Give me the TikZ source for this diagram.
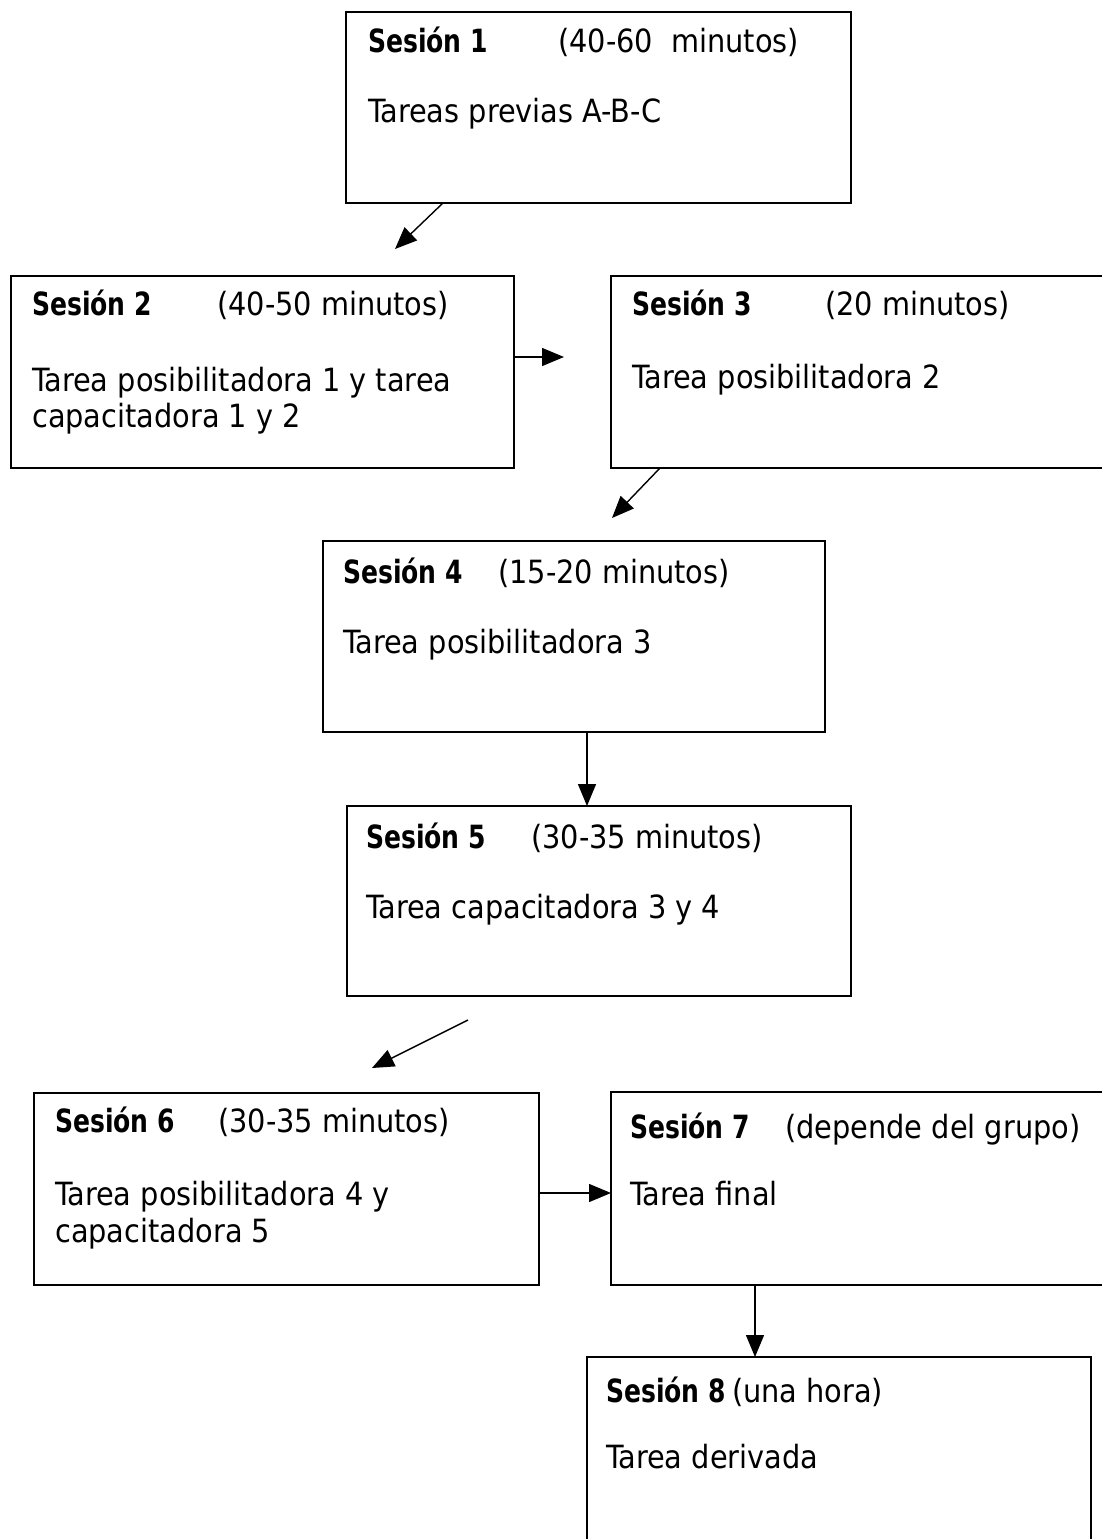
\documentclass[tikz,border=0pt]{standalone}
\usepackage{fontspec}
\setmainfont{DejaVu Sans Condensed}[BoldFeatures={FakeStretch=0.87}]
\usetikzlibrary{arrows.meta,calc}
\begin{document}
\begin{tikzpicture}[x=1pt,y=-1pt,
  box/.style={draw, line width=1.7pt, rectangle, inner sep=0pt, outer sep=0pt, anchor=north west},
  hd/.style={anchor=base west, inner sep=0pt, font=\fontsize{32}{38}\selectfont\bfseries},
  tx/.style={anchor=base west, inner sep=0pt, font=\fontsize{32}{38}\selectfont},
  arr/.style={line width=1.4pt, -{Triangle[length=22pt,width=18pt]}}]
\useasboundingbox (0,0) rectangle (1101,1539);
\fill[white] (0,0) rectangle (1101,1539);
% boxes
\node[box, minimum width=505pt, minimum height=191pt] (b1) at (346,12) {};
\node[box, minimum width=503pt, minimum height=192pt] (b2) at (11,276) {};
\node[box, minimum width=504pt, minimum height=192pt] (b3) at (611,276) {};
\node[box, minimum width=502pt, minimum height=191pt] (b4) at (323,541) {};
\node[box, minimum width=504pt, minimum height=190pt] (b5) at (347,806) {};
\node[box, minimum width=505pt, minimum height=192pt] (b6) at (34,1093) {};
\node[box, minimum width=504pt, minimum height=193pt] (b7) at (611,1092) {};
\node[box, minimum width=504pt, minimum height=203pt] (b8) at (587,1357) {};
% texts
\node[hd] (h1) at (368,52) {Sesión 1};
\node[tx] (p1) at (558,52) {(40-60\ \ minutos)};
\node[tx] (c1) at (368,122) {Tareas previas A-B-C};
\node[hd] (h2) at (32,315) {Sesión 2};
\node[tx] (p2) at (217,315) {(40-50 minutos)};
\node[tx] (c2a) at (32,391) {Tarea posibilitadora 1 y tarea};
\node[tx] (c2b) at (32,427) {capacitadora 1 y 2};
\node[hd] (h3) at (632,315) {Sesión 3};
\node[tx] (p3) at (825,315) {(20 minutos)};
\node[tx] (c3) at (632,388) {Tarea posibilitadora 2};
\node[hd] (h4) at (343,583) {Sesión 4};
\node[tx] (p4) at (498,583) {(15-20 minutos)};
\node[tx] (c4) at (343,653) {Tarea posibilitadora 3};
\node[hd] (h5) at (366,848) {Sesión 5};
\node[tx] (p5) at (531,848) {(30-35 minutos)};
\node[tx] (c5) at (366,918) {Tarea capacitadora 3 y 4};
\node[hd] (h6) at (55,1132) {Sesión 6};
\node[tx] (p6) at (218,1132) {(30-35 minutos)};
\node[tx] (c6a) at (55,1205) {Tarea posibilitadora 4 y};
\node[tx] (c6b) at (55,1242) {capacitadora 5};
\node[hd] (h7) at (630,1138) {Sesión 7};
\node[tx] (p7) at (785,1138) {(depende del grupo)};
\node[tx] (c7) at (630,1205) {Tarea final};
\node[hd] (h8) at (606,1402) {Sesión 8};
\node[tx] (p8) at (732,1402) {(una hora)};
\node[tx] (c8) at (606,1468) {Tarea derivada};
% free arrow ends
\coordinate (e1) at (395,249);
\coordinate (e2) at (564,357);
\coordinate (e3) at (612,518);
\coordinate (s5) at (468,1020);
\coordinate (e5) at (372,1068);
% connectors
\draw[arr] ([xshift=97pt]b1.south west) -- (e1);
\draw[arr] ([yshift=-81pt]b2.north east) -- (e2);
\draw[arr] ([xshift=49pt]b3.south west) -- (e3);
\draw[arr] ([xshift=264pt]b4.south west) -- ([xshift=240pt]b5.north west);
\draw[arr] (s5) -- (e5);
\draw[arr] ([yshift=-100pt]b6.north east) -- ([yshift=-101pt]b7.north west);
\draw[arr] ([xshift=144pt]b7.south west) -- ([xshift=168pt]b8.north west);
\end{tikzpicture}
\end{document}
